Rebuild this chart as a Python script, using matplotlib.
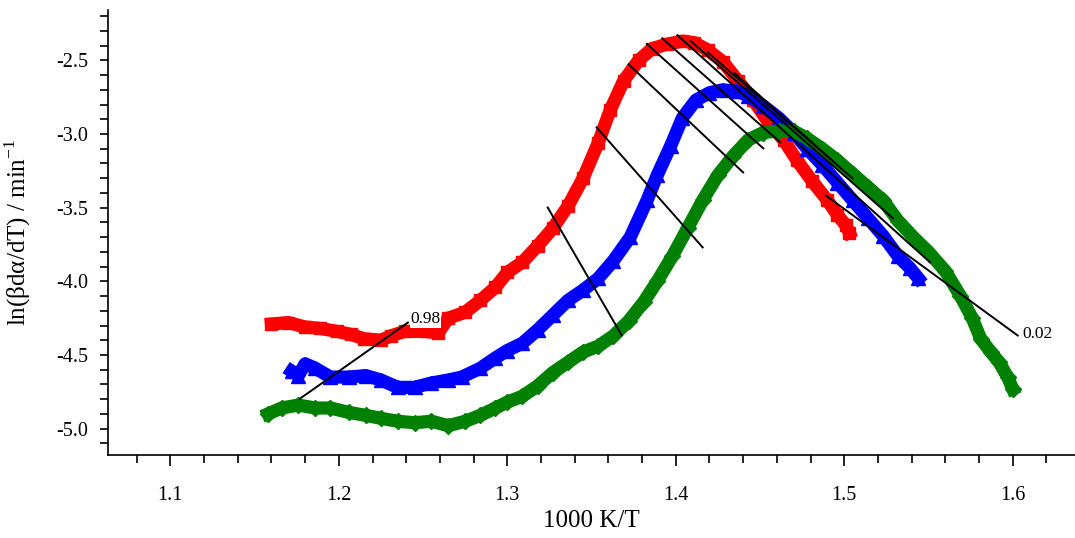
import numpy as np
import matplotlib.pyplot as plt
from matplotlib.ticker import MultipleLocator

plt.rcParams['font.family'] = ['Liberation Serif', 'DejaVu Serif']
plt.rcParams['mathtext.fontset'] = 'custom'
plt.rcParams['mathtext.rm'] = 'Liberation Serif'

# curves: 1000/T and ln(beta da/dT)
red_x = [1.160, 1.170, 1.180, 1.189, 1.199, 1.207, 1.215, 1.225, 1.231, 1.239, 1.251, 1.259,
         1.265, 1.275, 1.284, 1.293, 1.300, 1.309, 1.318, 1.327, 1.336, 1.345, 1.354, 1.361,
         1.369, 1.378, 1.386, 1.395, 1.404, 1.411, 1.419, 1.428, 1.437, 1.446, 1.455, 1.464,
         1.472, 1.481, 1.490, 1.496, 1.501, 1.503]
red_y = [-4.29, -4.28, -4.31, -4.32, -4.34, -4.36, -4.39, -4.40, -4.37, -4.34, -4.34, -4.35,
         -4.25, -4.21, -4.13, -4.04, -3.94, -3.87, -3.76, -3.64, -3.49, -3.30, -3.06, -2.84,
         -2.64, -2.50, -2.42, -2.39, -2.37, -2.38, -2.43, -2.51, -2.64, -2.77, -2.92, -3.04,
         -3.18, -3.32, -3.45, -3.55, -3.62, -3.67]

blue_x = [1.172, 1.176, 1.180, 1.186, 1.195, 1.206, 1.216, 1.225, 1.235, 1.245, 1.255, 1.265,
          1.273, 1.284, 1.293, 1.300, 1.309, 1.318, 1.327, 1.336, 1.345, 1.354, 1.363, 1.373,
          1.383, 1.389, 1.397, 1.404, 1.412, 1.420, 1.428, 1.436, 1.443, 1.452, 1.461, 1.470,
          1.478, 1.487, 1.496, 1.505, 1.514, 1.523, 1.532, 1.539, 1.544]
blue_y = [-4.61, -4.64, -4.56, -4.59, -4.65, -4.65, -4.64, -4.67, -4.72, -4.72, -4.69, -4.67,
          -4.65, -4.59, -4.52, -4.47, -4.42, -4.33, -4.23, -4.13, -4.06, -3.98, -3.86, -3.70,
          -3.45, -3.28, -3.08, -2.89, -2.77, -2.72, -2.70, -2.71, -2.74, -2.81, -2.89, -2.99,
          -3.10, -3.21, -3.33, -3.45, -3.57, -3.69, -3.83, -3.91, -3.98]

green_x = [1.158, 1.166, 1.176, 1.186, 1.195, 1.206, 1.216, 1.225, 1.235, 1.245, 1.255, 1.265,
           1.275, 1.284, 1.293, 1.300, 1.309, 1.318, 1.327, 1.336, 1.345, 1.354, 1.363, 1.372,
           1.381, 1.389, 1.398, 1.407, 1.416, 1.425, 1.434, 1.443, 1.452, 1.461, 1.470, 1.478,
           1.487, 1.496, 1.505, 1.514, 1.523, 1.532, 1.541, 1.550, 1.560, 1.569, 1.576, 1.581,
           1.587, 1.592, 1.597, 1.600]
green_y = [-4.90, -4.86, -4.84, -4.86, -4.86, -4.89, -4.91, -4.93, -4.95, -4.96, -4.95, -4.98,
           -4.95, -4.91, -4.86, -4.82, -4.78, -4.71, -4.62, -4.55, -4.48, -4.44, -4.37, -4.27,
           -4.14, -4.00, -3.83, -3.64, -3.45, -3.28, -3.15, -3.04, -2.99, -2.98, -2.98, -3.03,
           -3.10, -3.18, -3.27, -3.36, -3.45, -3.59, -3.70, -3.80, -3.93, -4.10, -4.25, -4.39,
           -4.48, -4.55, -4.65, -4.73]

# iso-conversional lines (x0, x1, y0, y1)
iso_lines = [
    (1.177, 1.241, -4.796, -4.280),
    (1.324, 1.368, -3.499, -4.368),
    (1.353, 1.416, -2.955, -3.770),
    (1.372, 1.440, -2.527, -3.261),
    (1.383, 1.452, -2.391, -3.098),
    (1.392, 1.462, -2.351, -3.057),
    (1.401, 1.551, -2.330, -3.872),
    (1.409, 1.529, -2.371, -3.573),
    (1.419, 1.505, -2.446, -3.302),
    (1.435, 1.496, -2.588, -3.213),
    (1.489, 1.603, -3.417, -4.368),
]
iso_labels = ['0.98', '0.02']

fig = plt.figure(figsize=(10.75, 5.38), dpi=100)
ax = fig.add_axes([0.1005, 0.154, 0.8995, 0.827])

ax.plot(red_x, red_y, '-s', color='red', lw=9.5, ms=9, mec='red', zorder=3)
ax.plot(blue_x, blue_y, '-^', color='blue', lw=9.5, ms=10, mec='blue', zorder=3)
ax.plot(green_x, green_y, '-D', color='green', lw=9.5, ms=8, mec='green', zorder=3)

for x0, x1, y0, y1 in iso_lines:
    ax.plot([x0, x1], [y0, y1], color='black', lw=1.4, zorder=4)

ax.text(1.2425, -4.255, iso_labels[0], fontsize=12.5, va='center', ha='left',
        bbox=dict(fc='white', ec='none', pad=0.5), zorder=5)
ax.text(1.606, -4.355, iso_labels[1], fontsize=12.5, va='center', ha='left', zorder=5)

ax.set_xlim(1.063, 1.637)
ax.set_ylim(-5.18, -2.16)
ax.xaxis.set_major_locator(MultipleLocator(0.1))
ax.xaxis.set_minor_locator(MultipleLocator(0.02))
ax.yaxis.set_major_locator(MultipleLocator(0.5))
ax.yaxis.set_minor_locator(MultipleLocator(0.1))
ax.xaxis.set_major_formatter(plt.FuncFormatter(lambda v, p: f'{v:.1f}'))
ax.yaxis.set_major_formatter(plt.FuncFormatter(lambda v, p: f'{v:.1f}'))

for s in ['top', 'right']:
    ax.spines[s].set_visible(False)
ax.spines['left'].set_linewidth(1.2)
ax.spines['bottom'].set_linewidth(1.2)
ax.tick_params(axis='x', which='major', length=8, width=1.2, labelsize=14.5, pad=14)
ax.tick_params(axis='x', which='minor', length=6, width=1.2)
ax.tick_params(axis='y', which='both', length=6, width=1.2, labelsize=14.5, pad=8)

ax.set_xlabel('1000 K/T', fontsize=18)
ax.set_ylabel('ln(βdα/dT) / min$^{-1}$', fontsize=18)
ax.xaxis.set_label_coords(0.5, -0.124)
ax.yaxis.set_label_coords(-0.078, 0.5)

fig.savefig('out.png', dpi=100)
